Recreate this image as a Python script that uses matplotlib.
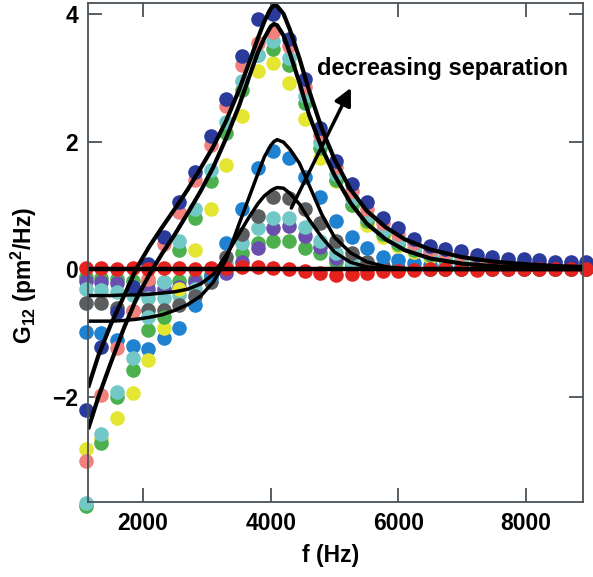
import numpy as np
import matplotlib
matplotlib.use("Agg")
import matplotlib.pyplot as plt

plt.rcParams['font.family'] = ['Liberation Sans', 'DejaVu Sans']
plt.rcParams['font.weight'] = 'bold'
plt.rcParams['mathtext.fontset'] = 'custom'
plt.rcParams['mathtext.rm'] = 'Liberation Sans:bold'
plt.rcParams['mathtext.bf'] = 'Liberation Sans:bold'

# measured frequencies (Hz)
freq = [1100, 1345, 1590, 1835, 2080, 2325, 2570, 2815, 3060, 3305, 3550,
        3795, 4040, 4285, 4530, 4775, 5020, 5265, 5510, 5755, 6000, 6245,
        6490, 6735, 6980, 7225, 7470, 7715, 7960, 8205, 8450, 8695, 8940]

# measured G12 for each separation
g_navy = [-2.2, -1.22, -0.67, -0.28, 0.09, 0.5, 1.05, 1.52, 2.09, 2.67, 3.34,
          3.92, 4.0, 3.6, 2.98, 2.22, 1.7, 1.34, 1.05, 0.81, 0.64, 0.48,
          0.36, 0.32, 0.28, 0.23, 0.19, 0.17, 0.16, 0.14, 0.12, 0.11, 0.11]
g_pink = [-3.0, -1.97, -1.23, -0.65, -0.15, 0.4, 0.9, 1.4, 1.95, 2.55, 3.2,
          3.55, 3.72, 3.5, 2.85, 2.1, 1.6, 1.22, 0.95, 0.72, 0.55, 0.42,
          0.31, 0.27, 0.24, 0.18, 0.15, 0.13, 0.12, 0.1, 0.08, 0.08, 0.07]
g_teal = [-3.65, -2.58, -1.92, -1.39, -0.75, -0.2, 0.45, 0.95, 1.55, 2.3, 2.95,
          3.35, 3.58, 3.3, 2.72, 2.0, 1.5, 1.1, 0.82, 0.6, 0.45, 0.34,
          0.25, 0.2, 0.16, 0.13, 0.11, 0.09, 0.08, 0.07, 0.06, 0.06, 0.05]
g_green = [-3.7, -2.72, -2.0, -1.58, -0.95, -0.75, 0.3, 0.8, 1.39, 2.14, 2.8,
           3.35, 3.45, 3.2, 2.6, 1.9, 1.4, 1.0, 0.75, 0.55, 0.4, 0.3,
           0.22, 0.17, 0.13, 0.1, 0.08, 0.07, 0.06, 0.05, 0.05, 0.04, 0.04]
g_yellow = [-2.81, -2.65, -2.33, -1.94, -1.42, -0.92, -0.3, 0.3, 0.95, 1.63, 2.4,
            3.11, 3.23, 2.92, 2.36, 1.75, 1.38, 1.0, 0.7, 0.5, 0.37, 0.27,
            0.2, 0.15, 0.12, 0.1, 0.08, 0.07, 0.06, 0.05, 0.05, 0.04, 0.04]
g_blue = [-0.98, -1.0, -1.1, -1.2, -1.25, -1.08, -0.92, -0.56, -0.1, 0.41, 0.95,
          1.58, 1.86, 1.75, 1.45, 1.13, 0.75, 0.5, 0.33, 0.2, 0.14, 0.1,
          0.07, 0.05, 0.04, 0.03, 0.03, 0.02, 0.02, 0.02, 0.02, 0.02, 0.02]
g_gray = [-0.52, -0.53, -0.6, -0.65, -0.64, -0.63, -0.55, -0.41, -0.2, 0.2, 0.56,
          0.84, 1.13, 1.12, 0.95, 0.72, 0.45, 0.25, 0.12, 0.05, 0.02, 0.01,
          0.01, 0.0, 0.0, 0.0, 0.0, 0.0, 0.0, 0.0, 0.0, 0.0, 0.0]
g_teal2 = [-0.3, -0.32, -0.35, -0.4, -0.45, -0.45, -0.4, -0.3, -0.15, 0.1, 0.42,
           0.64, 0.81, 0.81, 0.66, 0.45, 0.25, 0.12, 0.05, 0.02, 0.01, 0.01,
           0.0, 0.0, 0.0, 0.0, 0.0, 0.0, 0.0, 0.0, 0.0, 0.0, 0.0]
g_purple = [-0.18, -0.19, -0.22, -0.28, -0.3, -0.3, -0.28, -0.2, -0.12, -0.05, 0.11,
            0.34, 0.64, 0.68, 0.53, 0.35, 0.18, 0.08, 0.03, 0.01, 0.0, 0.0,
            0.0, 0.0, 0.0, 0.0, 0.0, 0.0, 0.0, 0.0, 0.0, 0.0, 0.0]
g_green2 = [-0.12, -0.13, -0.15, -0.18, -0.2, -0.2, -0.18, -0.15, -0.08, 0.05, 0.25,
            0.42, 0.45, 0.45, 0.34, 0.25, 0.12, 0.04, 0.0, 0.0, 0.0, 0.0,
            0.0, 0.0, 0.0, 0.0, 0.0, 0.0, 0.0, 0.0, 0.0, 0.0, 0.0]
g_red = [0.02, 0.02, 0.01, 0.02, 0.01, 0.02, 0.02, 0.01, 0.02, 0.02, 0.03,
         0.03, 0.02, 0.0, -0.03, -0.06, -0.09, -0.07, -0.05, -0.03, -0.02, -0.01,
         0.0, 0.0, 0.0, -0.01, 0.0, 0.0, 0.0, 0.0, 0.0, 0.0, 0.0]

# fitted curves
fit_f = [1140, 1300, 1500, 1700, 1900, 2100, 2300, 2500, 2700, 2900, 3100, 3300,
         3500, 3650, 3800, 3900, 4000, 4050, 4100, 4200, 4300, 4450, 4600, 4800,
         5000, 5250, 5500, 5800, 6100, 6500, 7000, 7500, 8000, 8500, 8900]
fit_a = [-1.85, -1.35, -0.85, -0.42, 0.02, 0.36, 0.66, 0.95, 1.25, 1.58, 1.92, 2.32,
         2.80, 3.20, 3.62, 3.88, 4.08, 4.13, 4.12, 4.00, 3.75, 3.30, 2.80, 2.20,
         1.72, 1.25, 0.92, 0.66, 0.47, 0.31, 0.19, 0.12, 0.08, 0.05, 0.04]
fit_b = [-2.5, -2.0, -1.45, -0.92, -0.45, -0.08, 0.25, 0.55, 0.88, 1.22, 1.60, 2.05,
         2.55, 2.98, 3.40, 3.62, 3.80, 3.84, 3.82, 3.66, 3.38, 2.92, 2.42, 1.90,
         1.47, 1.04, 0.72, 0.47, 0.30, 0.17, 0.09, 0.05, 0.03, 0.02, 0.01]
fit_c = [-0.81, -0.81, -0.81, -0.80, -0.78, -0.75, -0.71, -0.64, -0.55, -0.42, -0.20, 0.15,
         0.70, 1.10, 1.50, 1.76, 1.94, 2.00, 2.03, 1.99, 1.88, 1.66, 1.32, 0.86,
         0.50, 0.26, 0.12, 0.04, 0.01, 0.0, 0.0, 0.0, 0.0, 0.0, 0.0]
fit_d = [-0.41, -0.41, -0.41, -0.40, -0.40, -0.39, -0.37, -0.35, -0.31, -0.23, -0.08, 0.22,
         0.55, 0.80, 1.03, 1.15, 1.23, 1.26, 1.28, 1.27, 1.19, 1.02, 0.78, 0.50,
         0.27, 0.11, 0.04, 0.01, 0.0, 0.0, 0.0, 0.0, 0.0, 0.0, 0.0]
fit_0 = [0.0, 0.0, 0.0, 0.0, 0.0, 0.0, 0.0, 0.0, 0.0, 0.0, 0.0, 0.0,
         0.0, 0.0, 0.0, 0.0, 0.0, 0.0, 0.0, 0.0, 0.0, 0.0, 0.0, 0.0,
         0.0, 0.0, 0.0, 0.0, 0.0, 0.0, 0.0, 0.0, 0.0, 0.0, 0.0]

fig = plt.figure(figsize=(5.93, 5.77), dpi=100)
ax = fig.add_axes([0.1484, 0.130, 0.835, 0.865])

series = [(g_green2, '#4cb04f'), (g_purple, '#6b4fae'), (g_teal2, '#72c8c6'),
          (g_gray, '#5b5d5f'), (g_blue, '#1f82d0'), (g_yellow, '#e4e632'),
          (g_green, '#4cb04f'), (g_teal, '#72c8c6'), (g_pink, '#f2807c'),
          (g_navy, '#2b3b9b'), (g_red, '#e5221e')]
for vals, c in series:
    ax.plot(freq, vals, 'o', color=c, ms=10.5, mec='none', clip_on=False)

for fy, lw in [(fit_0, 3.2), (fit_d, 2.5), (fit_c, 2.5), (fit_b, 3.0), (fit_a, 3.0)]:
    ax.plot(fit_f, fy, '-', color='black', lw=lw, solid_capstyle='butt')

ax.annotate('', xy=(5275, 2.88), xytext=(4303, 0.92),
            arrowprops=dict(arrowstyle='-|>', lw=2.5, color='black', mutation_scale=26))
ax.text(4727, 3.14, 'decreasing separation', fontsize=17, fontweight='bold',
        ha='left', va='center')

ax.set_xlim(1138, 8893)
ax.set_ylim(-3.64, 4.17)
ax.set_xticks([2000, 4000, 6000, 8000])
ax.set_yticks([-2, 0, 2, 4])
ax.tick_params(direction='in', length=10, width=1.3, color='#4a5358',
               top=True, right=True, labelsize=16.5, pad=7)
for s in ax.spines.values():
    s.set_color('#4a5358')
    s.set_linewidth(1.3)

ax.set_xlabel('f (Hz)', fontsize=16.5, fontweight='bold')
ax.set_ylabel(r'G$_{\mathbf{12}}$ (pm$^{\mathbf{2}}$/Hz)', fontsize=16.5, fontweight='bold')
ax.xaxis.set_label_coords(0.49, -0.085)
ax.yaxis.set_label_coords(-0.098, 0.455)

fig.savefig('out.png', dpi=100)
